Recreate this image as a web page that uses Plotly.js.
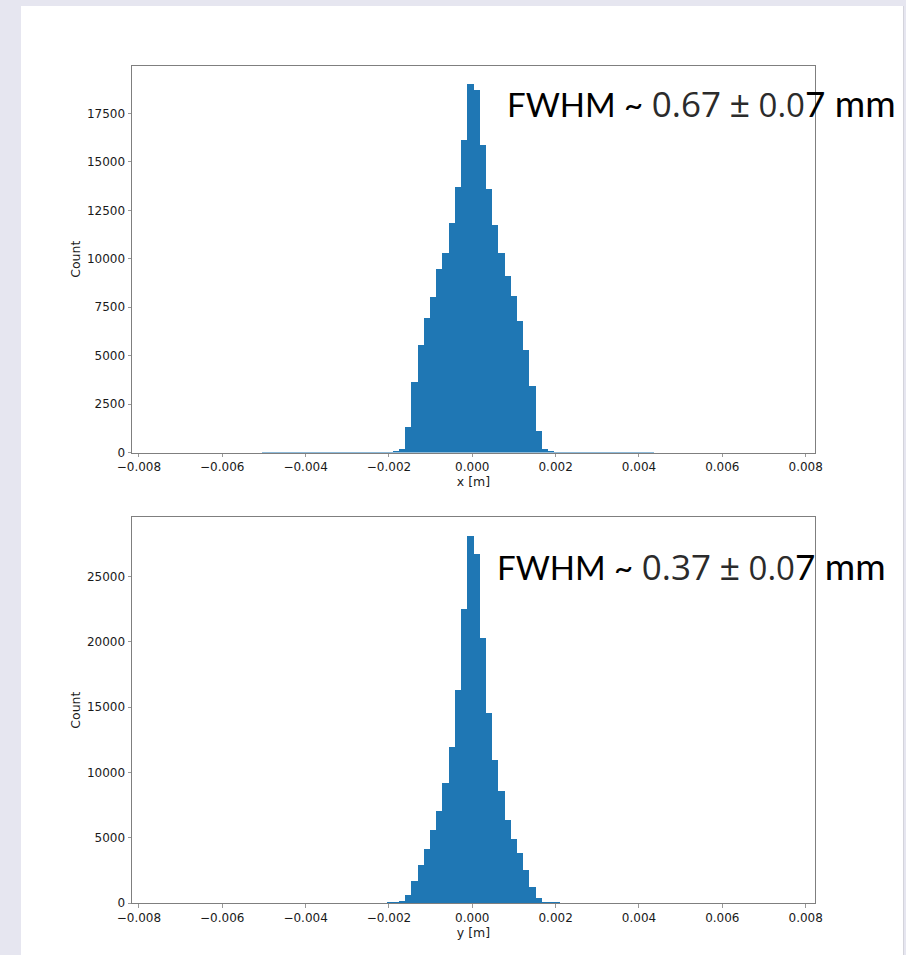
<!DOCTYPE html>
<html>
<head>
<meta charset="utf-8">
<script src="https://cdn.plot.ly/plotly-3.0.1.min.js"></script>
<style>
  html, body { margin: 0; padding: 0; background: #e6e6f0; }
  #chart { width: 906px; height: 955px; }
</style>
</head>
<body>
<div id="chart"></div>
<script>
// ---------------- DATA ----------------
// Histogram bins (100 bins, matplotlib-style over the data range)
const binStart = -0.007421;
const binWidth = 0.000149;

// Counts per bin, x position histogram
const xCounts = [
  0, 0, 0, 0, 0, 0, 0, 0, 0, 0,
  0, 0, 0, 0, 0, 0, 1, 1, 2, 2,
  2, 3, 3, 4, 5, 6, 8, 10, 12, 15,
  15, 18, 22, 27, 33, 40, 50, 92, 205, 1302,
  3658, 5554, 6965, 8050, 9481, 10323, 11842, 13702, 16146, 19004,
  18693, 15872, 13615, 11739, 10323, 9135, 8102, 6810, 5296, 3451,
  1111, 175, 92, 50, 40, 33, 27, 22, 18, 15,
  12, 10, 8, 6, 5, 4, 3, 2, 1, 0,
  0, 0, 0, 0, 0, 0, 0, 0, 0, 0,
  0, 0, 0, 0, 0, 0, 0, 0, 0, 0
];

// Counts per bin, y position histogram
const yCounts = [
  0, 0, 0, 0, 0, 0, 0, 0, 0, 0,
  0, 0, 0, 0, 0, 0, 0, 1, 2, 2,
  2, 3, 3, 4, 5, 6, 7, 9, 11, 13,
  15, 18, 21, 25, 30, 36, 45, 80, 176, 635,
  1707, 2932, 4134, 5611, 7012, 9186, 11988, 16328, 22529, 28140,
  26762, 20332, 14591, 10916, 8543, 6377, 4922, 3828, 2496, 1194,
  383, 110, 55, 40, 33, 27, 22, 18, 15, 12,
  10, 8, 7, 6, 5, 4, 3, 2, 1, 0,
  0, 0, 0, 0, 0, 0, 0, 0, 0, 0,
  0, 0, 0, 0, 0, 0, 0, 0, 0, 0
];

const xTickVals = [-0.008, -0.006, -0.004, -0.002, 0.0, 0.002, 0.004, 0.006, 0.008];
const yTickValsTop = [0, 2500, 5000, 7500, 10000, 12500, 15000, 17500];
const yTickValsBottom = [0, 5000, 10000, 15000, 20000, 25000];

const xAxisTitleTop = "x [m]";
const xAxisTitleBottom = "y [m]";
const yAxisTitle = "Count";
const fwhmTop = ["FWHM ~ ", "0.67", "\u00b1", "0.0", "7", "mm"];
const fwhmBottom = ["FWHM ~ ", "0.37", "\u00b1", "0.0", "7", "mm"];

// ---------------- BUILD ----------------
const nBins = xCounts.length;
const centers = xCounts.map((_, i) => binStart + (i + 0.5) * binWidth);
const dataMin = binStart, dataMax = binStart + nBins * binWidth;
const span = dataMax - dataMin;
const xRange = [dataMin - 0.05 * span, dataMax + 0.05 * span];

const W = 906, H = 955;
const M = { l: 132, r: 91, t: 66, b: 52 };
const PW = W - M.l - M.r, PH = H - M.t - M.b;
const px = x => (x - M.l) / PW;
const py = y => (H - M.b - y) / PH;

const barColor = '#1f77b4';
const traces = [
  { type: 'bar', x: centers, y: xCounts, width: binWidth, xaxis: 'x', yaxis: 'y',
    marker: { color: barColor, line: { width: 0 } }, hoverinfo: 'x+y' },
  { type: 'bar', x: centers, y: yCounts, width: binWidth, xaxis: 'x2', yaxis: 'y2',
    marker: { color: barColor, line: { width: 0 } }, hoverinfo: 'x+y' }
];

const tickFont = { family: 'DejaVu Sans', size: 12, color: '#1a1a1a' };
const titleFont = { family: 'DejaVu Sans', size: 12.5, color: '#1a1a1a' };
const lineCol = '#7f7f7f';

function xAxis(title, anchor) {
  return {
    anchor: anchor, domain: [0, 1], range: xRange, tickvals: xTickVals, tickformat: '.3f',
    ticks: 'outside', ticklen: 3.5, tickwidth: 0.8, tickcolor: lineCol,
    showline: true, mirror: true, linecolor: lineCol, linewidth: 1,
    showgrid: false, zeroline: false, tickfont: tickFont,
    title: { text: title, font: titleFont, standoff: 0 }
  };
}
function yAxis(domain, ticks, maxVal, anchor) {
  return {
    anchor: anchor, domain: domain, range: [0, maxVal * 1.05], tickvals: ticks, tickformat: 'd',
    ticks: 'outside', ticklen: 3.5, tickwidth: 0.8, tickcolor: lineCol,
    showline: true, mirror: true, linecolor: lineCol, linewidth: 1,
    showgrid: false, zeroline: false, tickfont: tickFont,
    title: { text: yAxisTitle, font: titleFont, standoff: 3 }
  };
}

function fwhmText(parts) {
  return '<span style="font-family:Lato;color:#000">' + parts[0] + '</span>' +
         '<span style="font-family:\'Open Sans\';font-size:35px;color:#2b2b2b">' + parts[1] + '</span> ' +
         '<span style="font-family:\'Open Sans\';font-size:36px;color:#2b2b2b">' + parts[2] + '</span>' +
         '<span style="font-family:\'Open Sans\';font-size:33px;color:#2b2b2b"> ' + parts[3] + '</span>' +
         '<span style="font-family:Lato;font-size:35px;color:#000">' + parts[4] + '</span>' +
         '<span style="font-family:Lato;font-size:37px;color:#000"> ' + parts[5] + '</span>';
}

const layout = {
  width: W, height: H, margin: M, showlegend: false,
  paper_bgcolor: '#e6e6f0', plot_bgcolor: '#ffffff',
  bargap: 0, barmode: 'overlay',
  xaxis: xAxis(xAxisTitleTop, 'y'),
  yaxis: yAxis([py(452.5), 1], yTickValsTop, Math.max(...xCounts), 'x'),
  xaxis2: xAxis(xAxisTitleBottom, 'y2'),
  yaxis2: yAxis([0, py(517.3)], yTickValsBottom, Math.max(...yCounts), 'x2'),
  shapes: [
    { type: 'rect', xref: 'paper', yref: 'paper', layer: 'below',
      x0: px(21), x1: px(903), y0: py(955), y1: py(6),
      fillcolor: '#ffffff', line: { width: 0 } },
    { type: 'line', xref: 'paper', yref: 'paper', layer: 'below',
      x0: px(903.5), x1: px(903.5), y0: py(955), y1: py(6),
      line: { color: '#d4d4dc', width: 1 } }
  ],
  annotations: [
    { xref: 'paper', yref: 'paper', x: px(505), y: py(104), xanchor: 'left', yanchor: 'middle',
      showarrow: false, text: fwhmText(fwhmTop), font: { family: 'Lato', size: 33, color: '#000' } },
    { xref: 'paper', yref: 'paper', x: px(495), y: py(566), xanchor: 'left', yanchor: 'middle',
      showarrow: false, text: fwhmText(fwhmBottom), font: { family: 'Lato', size: 33, color: '#000' } }
  ]
};

Plotly.newPlot('chart', traces, layout, { staticPlot: true, displayModeBar: false });
</script>
</body>
</html>
